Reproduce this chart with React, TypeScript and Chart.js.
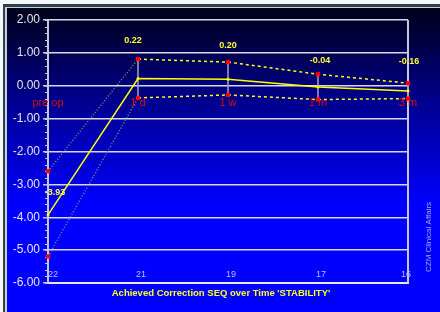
import React, { useEffect, useRef } from "react";
import { Chart, registerables } from "chart.js";

Chart.register(...registerables);

const categories = ["pre op", "1 d", "1 w", "1 m", "3 m"];
const meanValues = [-3.93, 0.22, 0.2, -0.04, -0.16];
const upperValues = [-2.6, 0.81, 0.72, 0.35, 0.08];
const lowerValues = [-5.19, -0.37, -0.28, -0.42, -0.39];
const sampleSizes = ["22", "21", "19", "17", "16"];
const meanLabels = ["-3.93", "0.22", "0.20", "-0.04", "-0.16"];
const yMin = -6;
const yMax = 2;
const xTitle = "Achieved Correction SEQ over Time 'STABILITY'";
const creditText = "CZM Clinical Affairs";

const FONT = "Arial, 'Liberation Sans', sans-serif";

const overlay = {
  id: "overlay",
  beforeDatasetsDraw(chart: any) {
    const { ctx, chartArea, scales } = chart;
    const xs = scales.x;
    const ys = scales.y;
    ctx.save();
    // minor ticks
    ctx.strokeStyle = "#c8c8d8";
    ctx.lineWidth = 1;
    for (let k = 0; k <= (yMax - yMin) * 5; k++) {
      const v = yMin + k * 0.2;
      const py = Math.round(ys.getPixelForValue(v)) + 0.5;
      ctx.beginPath();
      ctx.moveTo(chartArea.left - 3, py);
      ctx.lineTo(chartArea.left, py);
      ctx.stroke();
    }
    // right border
    ctx.strokeStyle = "#c8c8dc";
    ctx.lineWidth = 2;
    ctx.beginPath();
    ctx.moveTo(chartArea.right, chartArea.top);
    ctx.lineTo(chartArea.right, chartArea.bottom);
    ctx.stroke();
    // error bars
    ctx.strokeStyle = "#9c9cbc";
    ctx.lineWidth = 1.6;
    for (let i = 1; i < categories.length; i++) {
      const px = xs.getPixelForValue(i);
      ctx.beginPath();
      ctx.moveTo(px, ys.getPixelForValue(lowerValues[i]));
      ctx.lineTo(px, ys.getPixelForValue(upperValues[i]));
      ctx.stroke();
    }
    ctx.restore();
  },
  afterDatasetsDraw(chart: any) {
    const { ctx, chartArea, scales } = chart;
    const xs = scales.x;
    const ys = scales.y;
    ctx.save();
    // category labels (red)
    ctx.fillStyle = "#d81010";
    ctx.font = `11px ${FONT}`;
    ctx.textAlign = "center";
    ctx.textBaseline = "middle";
    const zeroY = ys.getPixelForValue(0);
    categories.forEach((c, i) => {
      ctx.fillText(c, xs.getPixelForValue(i), zeroY + 17);
    });
    // sample sizes
    ctx.fillStyle = "#b8c0f0";
    ctx.font = `9px ${FONT}`;
    sampleSizes.forEach((n, i) => {
      const px = xs.getPixelForValue(i);
      if (i === 0) {
        ctx.textAlign = "left";
        ctx.fillText(n, px, chartArea.bottom - 8);
      } else if (i === sampleSizes.length - 1) {
        ctx.textAlign = "right";
        ctx.fillText(n, px + 3, chartArea.bottom - 8);
      } else {
        ctx.textAlign = "center";
        ctx.fillText(n, px + 3, chartArea.bottom - 8);
      }
    });
    // mean value labels
    const dx = [7, -5, 0, 2, 1];
    const dy = [-22, -38, -34, -27, -29];
    ctx.font = `bold 9px ${FONT}`;
    ctx.textAlign = "center";
    ctx.fillStyle = "#ffff30";
    meanLabels.forEach((t, i) => {
      const px = xs.getPixelForValue(i) + dx[i];
      const py = ys.getPixelForValue(meanValues[i]) + dy[i];
      ctx.fillText(t, px, py);
    });
    // x title
    ctx.font = `bold 9.5px ${FONT}`;
    ctx.fillStyle = "#ffff20";
    ctx.fillText(xTitle, (chartArea.left + chartArea.right) / 2 - 7, chartArea.bottom + 10);
    // credit
    ctx.translate(chartArea.right + 21, ys.getPixelForValue(-4.6));
    ctx.rotate(-Math.PI / 2);
    ctx.font = `8px ${FONT}`;
    ctx.fillStyle = "#a0a8e8";
    ctx.fillText(creditText, 0, 0);
    ctx.restore();
  },
};

export default function App() {
  const ref = useRef<HTMLCanvasElement | null>(null);
  useEffect(() => {
    document.body.style.margin = "0";
    const canvas = ref.current!;
    const segColor = (ctx: any) => (ctx.p0DataIndex === 0 ? "#8c8c70" : "#ffff20");
    const segDash = (ctx: any) => (ctx.p0DataIndex === 0 ? [1, 2] : [3, 3]);
    const chart = new Chart(canvas, {
      type: "line",
      data: {
        labels: categories,
        datasets: [
          {
            label: "upper",
            data: upperValues,
            borderColor: "#ffff20",
            borderWidth: 1.5,
            segment: { borderColor: segColor, borderDash: segDash },
            pointStyle: "rect",
            pointRadius: 3,
            pointBackgroundColor: "#ff0000",
            pointBorderColor: "#ff0000",
            pointBorderWidth: 0,
            tension: 0,
          },
          {
            label: "lower",
            data: lowerValues,
            borderColor: "#ffff20",
            borderWidth: 1.5,
            segment: { borderColor: segColor, borderDash: segDash },
            pointStyle: "rect",
            pointRadius: 3,
            pointBackgroundColor: "#ff0000",
            pointBorderColor: "#ff0000",
            pointBorderWidth: 0,
            tension: 0,
          },
          {
            label: "mean",
            data: meanValues,
            borderColor: "#ffff00",
            borderWidth: 1.5,
            pointRadius: 1.5,
            pointBackgroundColor: "#ffff00",
            pointBorderWidth: 0,
            tension: 0,
          },
        ],
      },
      options: {
        animation: false,
        responsive: false,
        devicePixelRatio: 1,
        layout: { padding: { top: 20, right: 32, bottom: 0, left: 0 } },
        plugins: { legend: { display: false }, tooltip: { enabled: false } },
        scales: {
          x: {
            type: "category",
            offset: false,
            grid: { display: false },
            border: { display: true, color: "#e8e8f4", width: 2 },
            ticks: { display: false },
            afterFit: (s: any) => {
              s.height = 29;
            },
          },
          y: {
            min: yMin,
            max: yMax,
            ticks: {
              stepSize: 1,
              color: "#e4e4ec",
              font: { family: FONT, size: 12 },
              padding: 3,
              callback: (v: any) => Number(v).toFixed(2),
            },
            grid: { color: "#d8d8ec", lineWidth: 1.5, tickLength: 5, tickColor: "#c8c8d8" },
            border: { display: true, color: "#c8c8d4", width: 2 },
            afterFit: (s: any) => {
              s.width = 48;
            },
          },
        },
      },
      plugins: [overlay],
    });
    return () => chart.destroy();
  }, []);

  return (
    <div style={{ position: "fixed", left: 0, top: 0, width: 440, height: 312, background: "#f4f8f8", overflow: "hidden" }}>
      <div
        style={{
          position: "absolute",
          left: 3,
          top: 4,
          right: 0,
          bottom: 0,
          background: "#2c4050",
        }}
      />
      <div
        style={{
          position: "absolute",
          left: 5,
          top: 7,
          right: 0,
          bottom: 0,
          background: "#c8d0d0",
        }}
      />
      <div
        style={{
          position: "absolute",
          left: 7,
          top: 8,
          right: 0,
          bottom: 0,
          background: "linear-gradient(to bottom, #000018 0%, #00008c 30%, #0000ff 65%, #0000ff 100%)",
        }}
      />
      <canvas ref={ref} width={440} height={312} style={{ position: "absolute", left: 0, top: 0, width: 440, height: 312 }} />
    </div>
  );
}
